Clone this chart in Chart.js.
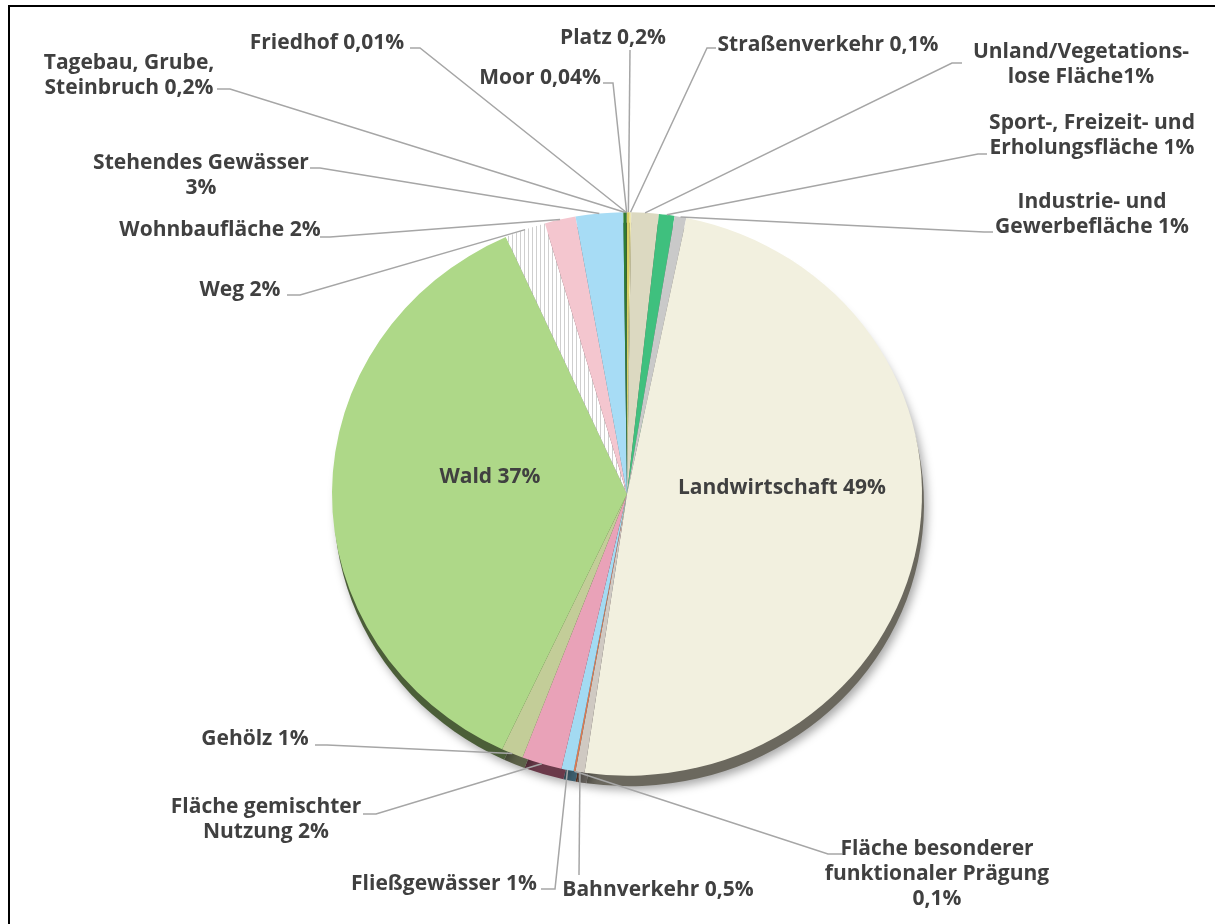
<!DOCTYPE html>
<html>
<head>
<meta charset="utf-8">
<script src="https://cdn.jsdelivr.net/npm/chart.js@4"></script>
<style>
  body { margin: 0; background: #fff; }
  canvas { display: block; }
</style>
</head>
<body>
<canvas id="landChart" width="1215" height="924"></canvas>
<script>
// categories, clockwise from 12 o'clock
const categories = [
  'Platz', 'Straßenverkehr', 'Unland/Vegetationslose Fläche',
  'Sport-, Freizeit- und Erholungsfläche', 'Industrie- und Gewerbefläche',
  'Landwirtschaft', 'Bahnverkehr', 'Fläche besonderer funktionaler Prägung',
  'Fließgewässer', 'Fläche gemischter Nutzung', 'Gehölz', 'Wald', 'Weg',
  'Wohnbaufläche', 'Stehendes Gewässer', 'Tagebau, Grube, Steinbruch',
  'Friedhof', 'Moor'
];
// shares in percent
const shares = [
  0.15, 0.08, 1.5,
  0.86, 0.64,
  49.2, 0.5, 0.1,
  0.67, 2.2, 1.2, 36.4, 2.25,
  1.7, 2.6, 0.15,
  0.01, 0.04
];
// printed labels
const labelLines = [
  ['Platz 0,2%'], ['Straßenverkehr 0,1%'], ['Unland/Vegetations-', 'lose Fläche1%'],
  ['Sport-, Freizeit- und', 'Erholungsfläche 1%'], ['Industrie- und', 'Gewerbefläche 1%'],
  ['Landwirtschaft 49%'], ['Bahnverkehr 0,5%'], ['Fläche besonderer', 'funktionaler Prägung', '0,1%'],
  ['Fließgewässer 1%'], ['Fläche gemischter', 'Nutzung 2%'], ['Gehölz 1%'], ['Wald 37%'], ['Weg 2%'],
  ['Wohnbaufläche 2%'], ['Stehendes Gewässer', '3%'], ['Tagebau, Grube,', 'Steinbruch 0,2%'],
  ['Friedhof 0,01%'], ['Moor 0,04%']
];

// slice colours and their darker side colours
const fillColors = [
  '#d9d166', '#efe8b4', '#dcd9c1',
  '#3fc07e', '#c9c9c9',
  '#f2f0df', '#cfc9c2', '#e07a50',
  '#a3daf2', '#e9a2b8', '#c3cd98', '#aed888', 'WEG',
  '#f4c6cf', '#a7dcf5', '#2f7d32',
  '#6a9a50', '#4a6a3a'
];
const sideColors = [
  '#6b6630', '#77735a', '#6a685c',
  '#1f5f3e', '#626262',
  '#6b685e', '#6a6560', '#703c28',
  '#3f6171', '#6b3a4a', '#5c6148', '#4b5e38', '#707070',
  '#765e63', '#436575', '#173e19',
  '#354d28', '#25351d'
];

// label layout: text centre x, first line y, leader start, elbow
const labelPos = [
  { x: 613, y: 38, sx: 630, sy: 50, ex: 630, ey: 50 },
  { x: 828, y: 45, sx: 716, sy: 48, ex: 707, ey: 48 },
  { x: 1081, y: 52, sx: 962, sy: 63, ex: 952, ey: 63 },
  { x: 1092, y: 123, sx: 987, sy: 154, ex: 978, ey: 154 },
  { x: 1092, y: 202, sx: 993, sy: 232, ex: 984, ey: 232 },
  { x: 782, y: 488, inside: true },
  { x: 658, y: 890, sx: 579, sy: 875, ex: 579, ey: 875 },
  { x: 937, y: 849, sx: 842, sy: 854, ex: 828, ey: 854 },
  { x: 444, y: 884, sx: 541, sy: 889, ex: 555, ey: 889 },
  { x: 266, y: 807, sx: 363, sy: 814, ex: 376, ey: 814 },
  { x: 255, y: 739, sx: 315, sy: 745, ex: 327, ey: 745 },
  { x: 490, y: 477, inside: true },
  { x: 240, y: 290, sx: 287, sy: 295, ex: 300, ey: 295 },
  { x: 220, y: 230, sx: 320, sy: 237, ex: 330, ey: 237 },
  { x: 201, y: 163, sx: 310, sy: 168, ex: 320, ey: 168 },
  { x: 129, y: 63, sx: 217, sy: 89, ex: 230, ey: 89 },
  { x: 327, y: 43, sx: 410, sy: 48, ex: 420, ey: 48 },
  { x: 540, y: 78, sx: 603, sy: 83, ex: 613, ey: 83 }
];
const TILT = 0.955; // vertical squash of the pie face

// hatched pattern for "Weg"
function hatchPattern() {
  const c = document.createElement('canvas');
  c.width = 4; c.height = 4;
  const g = c.getContext('2d');
  g.fillStyle = '#ffffff';
  g.fillRect(0, 0, 4, 4);
  g.fillStyle = '#cfcfcf';
  g.fillRect(0, 0, 1, 4);
  return g.createPattern(c, 'repeat');
}

const ctx0 = document.getElementById('landChart').getContext('2d');
const bgColors = fillColors.map(c => c === 'WEG' ? hatchPattern() : c);

// squash the pie a little so it looks tilted
const tiltPlugin = {
  id: 'tilt',
  beforeDatasetsDraw(chart) {
    const arc = chart.getDatasetMeta(0).data[0];
    const ctx = chart.ctx;
    ctx.save();
    ctx.translate(0, arc.y);
    ctx.scale(1, TILT);
    ctx.translate(0, -arc.y);
  },
  afterDatasetsDraw(chart) {
    chart.ctx.restore();
  }
};

// dark extruded side + shadow under the pie
const depthPlugin = {
  id: 'depth',
  beforeDatasetsDraw(chart) {
    const ctx = chart.ctx;
    const arcs = chart.getDatasetMeta(0).data;
    ctx.save();
    ctx.shadowColor = 'rgba(0,0,0,0.35)';
    ctx.shadowBlur = 10;
    ctx.shadowOffsetX = 3;
    ctx.shadowOffsetY = 4;
    arcs.forEach((arc, i) => {
      ctx.fillStyle = sideColors[i];
      ctx.beginPath();
      ctx.moveTo(arc.x + 2, arc.y + 11);
      ctx.arc(arc.x + 2, arc.y + 11, arc.outerRadius, arc.startAngle, arc.endAngle);
      ctx.closePath();
      ctx.fill();
    });
    ctx.restore();
  }
};

// labels with leader lines
const labelPlugin = {
  id: 'outLabels',
  afterDatasetsDraw(chart) {
    const ctx = chart.ctx;
    const arcs = chart.getDatasetMeta(0).data;
    ctx.save();
    ctx.font = 'bold 21px "Open Sans"';
    ctx.fillStyle = '#404040';
    ctx.textAlign = 'center';
    ctx.textBaseline = 'middle';
    arcs.forEach((arc, i) => {
      const p = labelPos[i];
      labelLines[i].forEach((line, k) => ctx.fillText(line, p.x, p.y + k * 25));
      if (p.inside) return;
      const mid = (arc.startAngle + arc.endAngle) / 2;
      const px = arc.x + Math.cos(mid) * arc.outerRadius;
      const py = arc.y + Math.sin(mid) * arc.outerRadius * TILT;
      ctx.strokeStyle = '#a6a6a6';
      ctx.lineWidth = 1.5;
      ctx.beginPath();
      ctx.moveTo(p.sx, p.sy);
      ctx.lineTo(p.ex, p.ey);
      ctx.lineTo(px, py);
      ctx.stroke();
    });
    ctx.restore();
  },
  afterDraw(chart) {
    const ctx = chart.ctx;
    ctx.save();
    ctx.strokeStyle = '#000';
    ctx.lineWidth = 2;
    ctx.strokeRect(9, 6, 1220, 930);
    ctx.restore();
  }
};

new Chart(ctx0, {
  type: 'pie',
  data: {
    labels: categories,
    datasets: [{
      data: shares,
      backgroundColor: bgColors,
      borderWidth: 0,
      hoverOffset: 0
    }]
  },
  options: {
    responsive: false,
    animation: false,
    layout: { padding: { top: 199, bottom: 135, left: 332, right: 293 } },
    plugins: {
      legend: { display: false },
      tooltip: { enabled: false }
    }
  },
  plugins: [tiltPlugin, depthPlugin, labelPlugin]
});
</script>
</body>
</html>
